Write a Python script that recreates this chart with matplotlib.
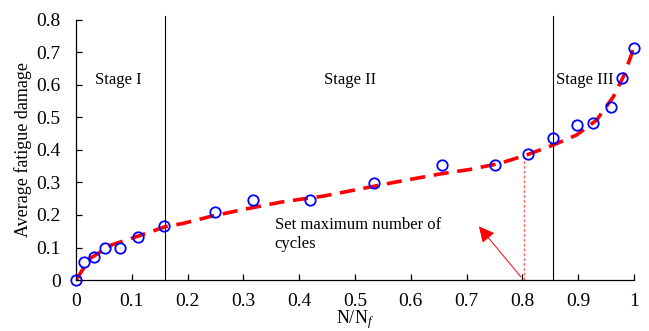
import matplotlib
matplotlib.use('Agg')
from matplotlib import pyplot as plt

plt.rcParams['font.family'] = ['Liberation Serif', 'DejaVu Serif']
plt.rcParams['mathtext.fontset'] = 'custom'
plt.rcParams['mathtext.rm'] = 'Liberation Serif'
plt.rcParams['mathtext.it'] = 'Liberation Serif:italic'

# measured points
life_ratio = [0.0, 0.015, 0.032, 0.052, 0.079, 0.111, 0.158, 0.25, 0.317, 0.42,
              0.534, 0.655, 0.75, 0.81, 0.854, 0.897, 0.926, 0.958, 0.978, 1.0]
damage = [0.0, 0.056, 0.07, 0.099, 0.099, 0.131, 0.166, 0.21, 0.245, 0.245,
          0.297, 0.354, 0.355, 0.388, 0.436, 0.477, 0.482, 0.533, 0.622, 0.715]

# fitted curve
fit_x = [0.0, 0.025, 0.064, 0.127, 0.16, 0.192, 0.24, 0.30, 0.372, 0.443, 0.515,
         0.569, 0.652, 0.706, 0.76, 0.808, 0.855, 0.897, 0.933, 0.963, 0.981, 1.0]
fit_y = [0.0, 0.066, 0.108, 0.144, 0.164, 0.174, 0.195, 0.217, 0.241, 0.258, 0.282,
         0.30, 0.326, 0.34, 0.359, 0.385, 0.415, 0.446, 0.492, 0.564, 0.626, 0.715]

stage_bounds = [0.159, 0.854]
stage_names = ['Stage I', 'Stage II', 'Stage III']
stage_pos = [0.034, 0.444, 0.861]
max_cycle = 0.803
max_cycle_damage = 0.38

fig = plt.figure(figsize=(6.49, 3.31), dpi=100)
ax = fig.add_axes([0.117, 0.154, 0.86, 0.786])

ax.plot(fit_x, fit_y, color='#ff0000', lw=2.6, linestyle=(0, (4.2, 2.4)), zorder=2)
ax.plot(life_ratio, damage, 'o', mfc='none', mec='#0000ff', mew=1.3, ms=7.5, zorder=3,
        clip_on=False)

for b in stage_bounds:
    ax.plot([b, b], [0, 0.813], color='black', lw=0.8, clip_on=False, zorder=1)

for name, xp in zip(stage_names, stage_pos):
    ax.text(xp, 0.615, name, fontsize=12, va='center', ha='left')

ax.plot([max_cycle, max_cycle], [0, max_cycle_damage], color='#ff6060', lw=1.0,
        linestyle=(0, (2, 1.5)), zorder=1)
ax.annotate('', xy=(0.722, 0.165), xytext=(0.797, 0.01),
            arrowprops=dict(arrowstyle='-|>', color='red', lw=0.7,
                            mutation_scale=24, shrinkA=0, shrinkB=0))
ax.text(0.356, 0.14, 'Set maximum number of\ncycles', fontsize=12, va='center',
        ha='left', linespacing=1.25)

ax.set_xlim(0, 1)
ax.set_ylim(0, 0.8)
ax.set_xticks([i / 10 for i in range(11)])
ax.set_xticklabels(['0', '0.1', '0.2', '0.3', '0.4', '0.5', '0.6', '0.7', '0.8', '0.9', '1'])
ax.set_yticks([i / 10 for i in range(9)])
ax.set_yticklabels(['0', '0.1', '0.2', '0.3', '0.4', '0.5', '0.6', '0.7', '0.8'])
ax.tick_params(direction='in', length=4, width=0.9, labelsize=14, pad=9)
ax.tick_params(axis='y', pad=11)
ax.spines['top'].set_visible(False)
ax.spines['right'].set_visible(False)
ax.spines['left'].set_linewidth(0.9)
ax.spines['bottom'].set_linewidth(0.9)

ax.set_xlabel('N/N$_f$', fontsize=13, labelpad=-1)
ax.set_ylabel('Average fatigue damage', fontsize=13, labelpad=3)

fig.savefig('out.png', dpi=100)
